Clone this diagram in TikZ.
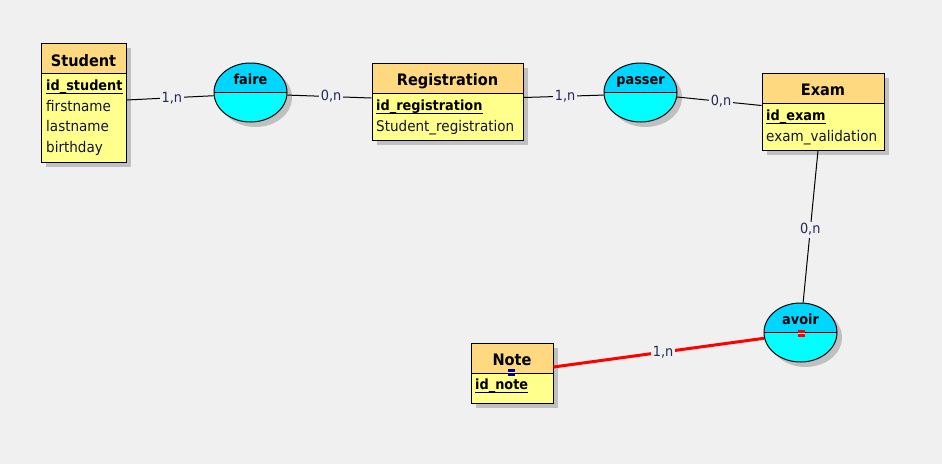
\documentclass[tikz,border=0pt]{standalone}
\usepackage{fontspec}
\setmainfont{DejaVu Sans}[FakeStretch=0.92]
\usetikzlibrary{calc,shapes.geometric,shadows}
\definecolor{bg}{RGB}{240,240,240}
\definecolor{hdr}{RGB}{255,217,128}
\definecolor{bodyc}{RGB}{255,255,140}
\definecolor{ctop}{RGB}{0,214,255}
\definecolor{cbot}{RGB}{0,255,255}
\definecolor{shad}{RGB}{192,192,192}
\definecolor{lbl}{RGB}{35,40,85}
\definecolor{attr}{RGB}{20,20,50}
\definecolor{navy}{RGB}{0,0,140}
\tikzset{
  myshadow/.style={drop shadow={shadow xshift=5pt, shadow yshift=-5pt, fill=shad, opacity=1}},
  entity/.style={draw, line width=1pt, fill=bodyc, inner sep=0pt, myshadow,
    path picture={
      \fill[hdr] (path picture bounding box.north west) rectangle ([yshift=-30pt]path picture bounding box.north east);
      \draw[line width=1pt] ([yshift=-30pt]path picture bounding box.north west) -- ([yshift=-30pt]path picture bounding box.north east);
    }},
  relation/.style={draw, ellipse, line width=1pt, fill=cbot, inner sep=0pt, minimum width=73pt, minimum height=59pt, myshadow,
    path picture={
      \fill[ctop] (path picture bounding box.north west) rectangle (path picture bounding box.east);
      \draw[line width=1pt] (path picture bounding box.west) -- (path picture bounding box.east);
    }},
  hdrtext/.style={font=\fontsize{15.8}{18}\selectfont\bfseries, anchor=base, inner sep=0pt},
  reltext/.style={font=\fontsize{14}{16}\selectfont\bfseries, anchor=base, inner sep=0pt},
  keytext/.style={font=\fontsize{14}{16}\selectfont\bfseries, anchor=base west, inner sep=0pt},
  attrtext/.style={font=\fontsize{14.7}{17}\selectfont, text=attr, anchor=base west, inner sep=0pt},
  keyline/.style={line width=1pt},
  link/.style={line width=1pt},
  redlink/.style={line width=3pt, red},
  card/.style={font=\fontsize{14}{16}\selectfont, text=lbl, fill=bg, inner sep=2pt, pos=0.52}
}
\begin{document}
\begin{tikzpicture}[x=1pt,y=-1pt]
\fill[bg] (0,0) rectangle (942,464);
\useasboundingbox (0,0) rectangle (942,464);

% entities
\node[entity, minimum width=85pt, minimum height=119pt] (student) at (83.5,102.5) {};
\node[entity, minimum width=151pt, minimum height=77pt] (registration) at (447.5,101.5) {};
\node[entity, minimum width=122pt, minimum height=77pt] (exam) at (823,111.5) {};
\node[entity, minimum width=82pt, minimum height=60pt] (note) at (512,373) {};

% relations
\node[relation] (faire) at (250.5,92.5) {};
\node[relation] (passer) at (640.5,92.5) {};
\node[relation] (avoir) at (800.5,332.5) {};

% connectors
\draw[link] ($(student.east)+(0,-2.5)$) -- node[card] (c1) {1,n} (faire.185);
\draw[link] (faire.-4) -- node[card] (c2) {0,n} ($(registration.west)+(0,-3.5)$);
\draw[link] ($(registration.east)+(0,-4)$) -- node[card] (c3) {1,n} (passer.184);
\draw[link] (passer.-7) -- node[card] (c4) {0,n} ($(exam.west)+(0,-6)$);
\draw[link] ($(exam.south)+(-5,0)$) -- node[card] (c5) {0,n} (avoir.85);
\draw[redlink] ($(note.east)+(0,-6)$) -- node[card] (c6) {1,n} (avoir.189);

% entity texts
\node[hdrtext] (studentT) at (83.5,66) {Student};
\node[keytext] (sid) at (46,90) {id\_student};
\draw[keyline] ($(sid.base west)+(0,3)$) -- ($(sid.base east)+(0,3)$);
\node[attrtext] (sa1) at (46,111) {firstname};
\node[attrtext] (sa2) at (46,131.5) {lastname};
\node[attrtext] (sa3) at (46,152) {birthday};

\node[hdrtext] (registrationT) at (447.5,85) {Registration};
\node[keytext] (rid) at (376,110) {id\_registration};
\draw[keyline] ($(rid.base west)+(0,3)$) -- ($(rid.base east)+(0,3)$);
\node[attrtext] (ra1) at (376,131) {Student\_registration};

\node[hdrtext] (examT) at (823,95) {Exam};
\node[keytext] (eid) at (766,120) {id\_exam};
\draw[keyline] ($(eid.base west)+(0,3)$) -- ($(eid.base east)+(0,3)$);
\node[attrtext] (ea1) at (766,141) {exam\_validation};

\node[hdrtext] (noteT) at (512,365) {Note};
\node[keytext] (nid) at (475,389) {id\_note};
\draw[keyline] ($(nid.base west)+(0,3)$) -- ($(nid.base east)+(0,3)$);

% relation texts
\node[reltext] (faireT) at (250.5,84) {faire};
\node[reltext] (passerT) at (640.5,84) {passer};
\node[reltext] (avoirT) at (800.5,324) {avoir};

% selection markers
\fill[red] (798,330) rectangle (805,337);
\draw[white, line width=1pt] (798,333.5) -- (805,333.5);
\fill[navy] (508,369) rectangle (515,376);
\draw[white, line width=1pt] (508,372.5) -- (515,372.5);
\end{tikzpicture}
\end{document}
